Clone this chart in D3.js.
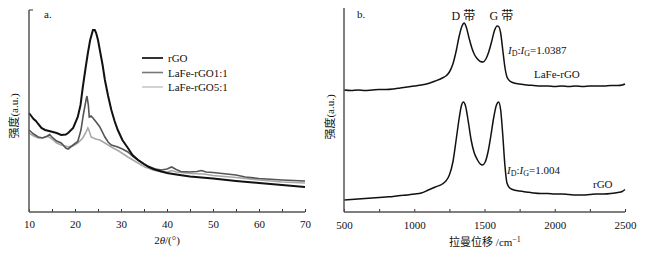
<!DOCTYPE html>
<html><head><meta charset="utf-8">
<script src="https://cdn.jsdelivr.net/npm/d3@7/dist/d3.min.js"></script>
<style>
body{margin:0;background:#fff;}
svg text{font-family:"Liberation Serif","DejaVu Serif",serif !important;fill:#111;}
svg text.cjk{font-family:"Liberation Serif","Noto Sans CJK SC",serif !important;}
</style></head>
<body><svg id="c" width="647" height="254"></svg>
<script>
// ---------- Panel a: XRD ----------
const xrdAngle = [10,10.5,11,11.5,12,12.7,13.5,14.8,16,17,18,18.5,19.6,20.6,21.2,21.7,22.3,22.8,23.3,23.9,24.3,24.6,25,25.4,26,26.5,27.2,27.9,28.6,29.3,30.3,31.5,32.5,33.7,35,35.9,37,38.8,40,42,45,50,55,60,65,70];
const rGO_xrd = [99,96,93,91,88,84,82,80.5,79,77,77.5,79,84,95,107,125,144,159,172,182,182,179,172,162,147,132,116,102,91,82,72,64,57,52,48,45.5,43,40.5,39,37.5,35.5,33.5,31,29,27,25];
const ang11 = [10,10.5,11,12,13,14,14.5,15,16,17,18,18.5,19.6,20.6,21.3,21.8,22.4,22.6,22.9,23.1,23.5,23.9,24.6,25.4,26.5,27.2,27.9,29.3,30.3,31.5,32.5,33.7,35,35.9,37.5,38.8,40,41,42,43,45,46.5,47.5,48.5,50,52,55,57,60,65,70];
const lafe11 = [82,80,78,75,74,76,77.5,75,71,69,64,63,67,70.5,82,97,112,116,107,95,96,94,90,85,75,70,67,65,63,60,56,52,48,45.5,43,42,43,45,42.5,40.5,40,40.5,41.5,40,39.5,38.5,37,35,33.5,32,31];
const ang51 = [10,11,12,12.7,13.5,14.2,15,16,17,18.5,19.5,20.6,21.7,22.3,22.8,23.1,23.5,24.5,25.4,26.5,27.9,29.5,31.5,33.5,35.2,37,38.8,40,41,42,45,48,50,55,60,65,70];
const lafe51 = [79,76,74,74,75,75.5,73,69,67,65.3,66,69,74,79,84,81,75,73,72,69,65,61,55,49.5,45,42,40,40,41.5,40,38.5,38,36.5,34.5,32,30,29];
const xrdTicks = [10,20,30,40,50,60,70];
const legendNames = ["rGO","LaFe-rGO1:1","LaFe-rGO5:1"];

// ---------- Panel b: Raman ----------
const shiftLaFe = [500,550,600,650,700,750,800,850,900,950,1000,1050,1100,1150,1200,1225,1250,1275,1300,1320,1340,1355,1370,1390,1410,1430,1450,1470,1490,1510,1530,1550,1570,1590,1600,1615,1630,1645,1660,1680,1700,1750,1800,1850,1900,1950,2000,2050,2100,2150,2200,2250,2300,2350,2400,2450,2480,2500];
const ramanLaFe = [122,121.5,122,121.5,122,122.5,122.5,123,124,125,126,127,128.5,131,134,136,140,148,162,176,186,189,185,174,164,157,153,150.5,150,153,160,170,181,186,185.5,179,162,145,135,131,129.5,128,127,126.5,126,126,125.5,126,125.5,126,125.5,126,126,126,126.5,126.5,127,128];
const shiftRGO = [500,550,600,650,700,750,800,850,900,950,1000,1050,1100,1150,1200,1225,1250,1275,1300,1320,1335,1350,1365,1385,1405,1425,1450,1470,1485,1505,1525,1545,1565,1585,1600,1615,1630,1645,1660,1680,1700,1750,1800,1850,1900,1950,2000,2050,2100,2150,2200,2250,2300,2350,2400,2450,2480,2500];
const ramanRGO = [12,12.5,13,13.5,14,14.5,15,15.5,16.5,17,18,19,22,25,28,31,37,50,74,94,106,110,106,90,72,60,52,48,47,50,60,76,94,107,110,102,77,47,29,24,22.5,21,20,19,18.5,18.5,18,18,17.5,17,17,17.5,18,18,18.5,19.5,20.5,22.5];
const ramanTicks = [500,1000,1500,2000,2500];

const svg = d3.select("#c");

// ===== Panel a =====
const xa = d3.scaleLinear().domain([10,70]).range([29,305]);
const ya = d3.scaleLinear().domain([0,202]).range([212,10]);
const ga = svg.append("g");
const lineA = (xs, ys) => d3.line().x((d,i)=>xa(xs[i])).y(d=>ya(d)).curve(d3.curveLinear)(ys);
ga.append("path").attr("d", lineA(ang51, lafe51)).attr("fill","none").attr("stroke","#a8a8a8").attr("stroke-width",1.6);
ga.append("path").attr("d", lineA(ang11, lafe11)).attr("fill","none").attr("stroke","#555").attr("stroke-width",1.6);
ga.append("path").attr("d", lineA(xrdAngle, rGO_xrd)).attr("fill","none").attr("stroke","#111").attr("stroke-width",2);

const axA = ga.append("g").attr("transform","translate(0,212)")
  .call(d3.axisBottom(xa).tickValues(xrdTicks).tickSize(0).tickPadding(8).tickFormat(d3.format("d")));
axA.select(".domain").remove();
axA.selectAll("text").attr("font-size",11).attr("fill","#111");
ga.append("g").attr("transform","translate(0,212)")
  .call(d3.axisTop(xa).tickValues(d3.range(10,71,5)).tickSize(3).tickFormat(""))
  .call(g=>g.select(".domain").remove())
  .selectAll("line").attr("stroke","#333");
ga.append("line").attr("x1",xa(10)).attr("x2",xa(70)).attr("y1",212).attr("y2",212).attr("stroke","#555").attr("stroke-width",1.5);
ga.append("line").attr("x1",29).attr("x2",29).attr("y1",ya(202)).attr("y2",212).attr("stroke","#555").attr("stroke-width",1.5);
ga.append("line").attr("x1",29).attr("x2",33).attr("y1",ya(202)).attr("y2",ya(202)).attr("stroke","#555").attr("stroke-width",1.2);

ga.append("text").attr("x",167).attr("y",244).attr("text-anchor","middle").attr("font-size",11)
  .html('2<tspan font-style="italic">θ</tspan>/(°)');
ga.append("text").attr("class","cjk").attr("transform","translate(18,116) rotate(-90)").attr("text-anchor","middle").attr("font-size",11).text("强度(a.u.)");
ga.append("text").attr("x",44).attr("y",18).attr("font-size",11).text("a.");

const legCol = ["#333","#777","#b5b5b5"], legW=[2,1.6,1.2];
legendNames.forEach((n,i)=>{
  const y = 58 + i*14.5;
  ga.append("line").attr("x1",142).attr("x2",163).attr("y1",y).attr("y2",y).attr("stroke",legCol[i]).attr("stroke-width",legW[i]);
  ga.append("text").attr("x",168).attr("y",y+4).attr("font-size",11).text(n);
});

// ===== Panel b =====
const xb = d3.scaleLinear().domain([500,2500]).range([344,625]);
const yb = d3.scaleLinear().domain([0,204]).range([212,8]);
const gb = svg.append("g");
const lineB = (xs, ys) => d3.line().x((d,i)=>xb(xs[i])).y(d=>yb(d)).curve(d3.curveMonotoneX)(ys);
gb.append("path").attr("d", lineB(shiftLaFe, ramanLaFe)).attr("fill","none").attr("stroke","#111").attr("stroke-width",1.5);
gb.append("path").attr("d", lineB(shiftRGO, ramanRGO)).attr("fill","none").attr("stroke","#111").attr("stroke-width",1.5);

const axB = gb.append("g").attr("transform","translate(0,212)")
  .call(d3.axisBottom(xb).tickValues(ramanTicks).tickSize(0).tickPadding(9).tickFormat(d3.format("d")));
axB.select(".domain").remove();
axB.selectAll("text").attr("font-size",11).attr("fill","#111");
gb.append("g").attr("transform","translate(0,212)")
  .call(d3.axisTop(xb).tickValues(d3.range(500,2501,250)).tickSize(3).tickFormat(""))
  .call(g=>g.select(".domain").remove())
  .selectAll("line").attr("stroke","#333");
gb.append("line").attr("x1",344).attr("x2",625).attr("y1",212).attr("y2",212).attr("stroke","#555").attr("stroke-width",1.5);
gb.append("line").attr("x1",344).attr("x2",344).attr("y1",yb(204)).attr("y2",212).attr("stroke","#555").attr("stroke-width",1.5);

gb.append("text").attr("class","cjk").attr("x",485).attr("y",246).attr("text-anchor","middle").attr("font-size",11)
  .html('拉曼位移 /cm<tspan baseline-shift="super" font-size="8">−1</tspan>');
gb.append("text").attr("class","cjk").attr("transform","translate(334,117) rotate(-90)").attr("text-anchor","middle").attr("font-size",11).text("强度(a.u.)");
gb.append("text").attr("x",357).attr("y",18).attr("font-size",11).text("b.");
gb.append("text").attr("class","cjk").attr("x",xb(1350)).attr("y",20).attr("text-anchor","middle").attr("font-size",12).text("D 带");
gb.append("text").attr("class","cjk").attr("x",xb(1620)).attr("y",20).attr("text-anchor","middle").attr("font-size",12).text("G 带");

function ratio(x,y,val){
  gb.append("text").attr("x",x).attr("y",y).attr("font-size",11)
    .html('<tspan font-style="italic">I</tspan><tspan font-size="8" dy="2">D</tspan><tspan dy="-2">:</tspan><tspan font-style="italic">I</tspan><tspan font-size="8" dy="2">G</tspan><tspan dy="-2">='+val+'</tspan>');
}
ratio(508,54,"1.0387");
ratio(507,174,"1.004");
gb.append("text").attr("x",534).attr("y",78).attr("font-size",11).text("LaFe-rGO");
gb.append("text").attr("x",593).attr("y",188).attr("font-size",11).text("rGO");
</script></body></html>
